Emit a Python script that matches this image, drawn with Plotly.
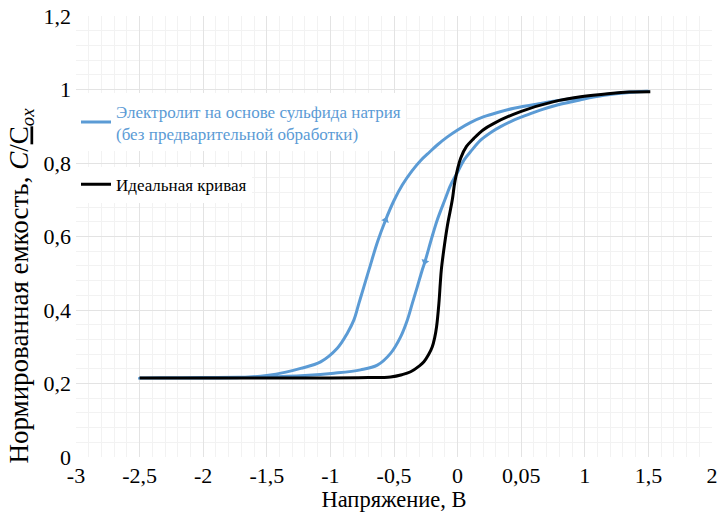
import plotly.graph_objects as go

# ---- data ----
x_ticks = [-3, -2.5, -2, -1.5, -1, -0.5, 0, 0.5, 1, 1.5, 2]
x_ticktext = ["-3", "-2,5", "-2", "-1,5", "-1", "-0,5", "0", "0,05", "1", "1,5", "2"]
y_ticks = [0, 0.2, 0.4, 0.6, 0.8, 1.0, 1.2]
y_ticktext = ["0", "0,2", "0,4", "0,6", "0,8", "1", "1,2"]

# Electrolyte curve: forward sweep (upper/left branch), then reverse (lower/right branch)
blue_fwd_x = [-2.5, -2.0, -1.7, -1.5, -1.35, -1.234, -1.077, -0.946, -0.867, -0.815,
              -0.776, -0.737, -0.697, -0.63, -0.566, -0.5, -0.435, -0.36, -0.29, -0.22,
              -0.16, -0.08, 0.0, 0.1, 0.207, 0.32, 0.443, 0.653, 0.914, 1.15, 1.35, 1.5]
blue_fwd_y = [0.215, 0.215, 0.216, 0.222, 0.231, 0.241, 0.259, 0.296, 0.337, 0.373,
              0.418, 0.463, 0.509, 0.585, 0.645, 0.698, 0.740, 0.778, 0.807, 0.830,
              0.849, 0.871, 0.890, 0.910, 0.926, 0.938, 0.949, 0.962, 0.976, 0.986, 0.993, 0.995]
blue_rev_x = [1.35, 1.15, 0.967, 0.784, 0.65, 0.548, 0.45, 0.338, 0.27, 0.181, 0.112,
              0.05, 0.0, -0.055, -0.10, -0.16, -0.2, -0.257, -0.278, -0.317, -0.356,
              -0.395, -0.448, -0.527, -0.631, -0.763, -0.972, -1.2, -1.5, -2.0, -2.5]
blue_rev_y = [0.992, 0.984, 0.972, 0.958, 0.944, 0.931, 0.918, 0.899, 0.885, 0.862, 0.835,
              0.808, 0.775, 0.740, 0.700, 0.645, 0.600, 0.531, 0.509, 0.463, 0.418,
              0.373, 0.327, 0.282, 0.250, 0.237, 0.228, 0.222, 0.218, 0.216, 0.215]

ideal_x = [-2.5, -1.5, -1.0, -0.7, -0.527, -0.438, -0.369, -0.3, -0.265, -0.229, -0.199,
           -0.18, -0.165, -0.147, -0.136, -0.128, -0.11, -0.08, -0.042, -0.02, 0.024,
           0.07, 0.128, 0.2, 0.286, 0.495, 0.757, 0.967, 1.2, 1.35, 1.515]
ideal_y = [0.215, 0.215, 0.215, 0.216, 0.218, 0.224, 0.232, 0.248, 0.259, 0.278, 0.300,
           0.325, 0.355, 0.418, 0.473, 0.509, 0.560, 0.630, 0.699, 0.752, 0.813,
           0.845, 0.867, 0.890, 0.908, 0.940, 0.967, 0.980, 0.989, 0.993, 0.994]

arrow_x = [-0.566, -0.257]
arrow_y = [0.645, 0.531]
arrow_symbols = ["triangle-up", "triangle-down"]
arrow_angles = [20, 17]

blue_name = "Электролит на основе сульфида натрия<br>(без предварительной обработки)"
ideal_name = "Идеальная кривая"

BLUE = "#5b9bd5"
FONT = "Liberation Serif, Times New Roman, serif"

fig = go.Figure()
fig.add_trace(go.Scatter(
    x=blue_fwd_x + blue_rev_x, y=blue_fwd_y + blue_rev_y,
    mode="lines", line=dict(color=BLUE, width=3, shape="spline", smoothing=1.0),
    name="<span style='color:%s'>%s</span>" % (BLUE, blue_name),
    legend="legend",
))
fig.add_trace(go.Scatter(
    x=ideal_x, y=ideal_y,
    mode="lines", line=dict(color="black", width=3, shape="spline", smoothing=1.0),
    name=ideal_name, legend="legend2",
))
fig.add_trace(go.Scatter(
    x=arrow_x, y=arrow_y, mode="markers",
    marker=dict(symbol=arrow_symbols, angle=arrow_angles, size=7, color=BLUE),
    showlegend=False, hoverinfo="skip",
))

legend_common = dict(xanchor="left", yanchor="top", bgcolor="white", borderwidth=0,
                     font=dict(family=FONT, size=17, color="black"), itemwidth=30)

fig.update_layout(
    width=718, height=512,
    margin=dict(l=76, r=6, t=16, b=55, autoexpand=False),
    paper_bgcolor="white", plot_bgcolor="white",
    font=dict(family=FONT, size=22, color="black"),
    showlegend=True,
    legend=dict(x=0.0, y=0.8245, **legend_common),
    legend2=dict(x=0.0, y=0.658, **legend_common),
    xaxis=dict(
        range=[-3, 2], tickmode="array", tickvals=x_ticks, ticktext=x_ticktext,
        showgrid=True, gridcolor="#e3e3e3", gridwidth=1, zeroline=False,
        showline=False, ticks="", automargin=False,
        minor=dict(tickmode="linear", tick0=0, dtick=0.1, showgrid=True,
                   gridcolor="#f2f2f2", gridwidth=1),
        title=dict(text="Напряжение, В", font=dict(size=22.5), standoff=6),
        tickfont=dict(size=22),
        ticklabelstandoff=3,
    ),
    yaxis=dict(
        range=[0, 1.2], tickmode="array", tickvals=y_ticks, ticktext=y_ticktext,
        showgrid=True, gridcolor="#e3e3e3", gridwidth=1, zeroline=False,
        showline=False, ticks="", automargin=False,
        minor=dict(tickmode="linear", tick0=0, dtick=0.04, showgrid=True,
                   gridcolor="#f2f2f2", gridwidth=1),
        tickfont=dict(size=22),
        ticklabelstandoff=4,
    ),
    annotations=[dict(
        text="Нормированная емкость, <i>C</i>/<u>C</u><sub><i>ox</i></sub>",
        xref="paper", yref="paper", x=-0.0857, y=0.39,
        xanchor="center", yanchor="middle", textangle=-90, showarrow=False,
        font=dict(family=FONT, size=27, color="black"),
    )],
)

fig.write_html("out.html",
               config={"displayModeBar": False},
               post_script="document.body.style.margin='0';document.body.style.overflow='hidden';")
